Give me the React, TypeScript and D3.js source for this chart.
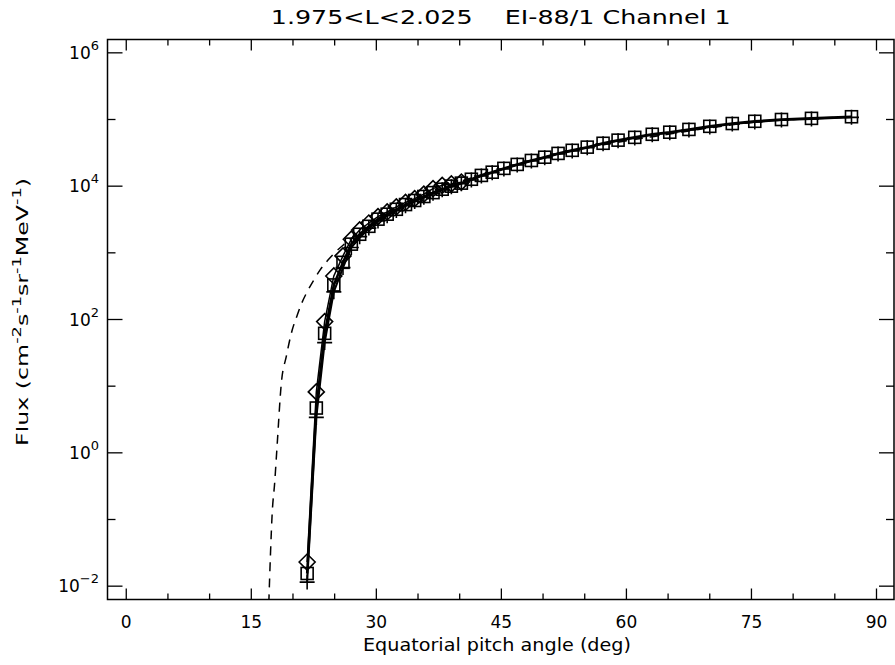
import React from "react";
import * as d3 from "d3";

// ---------- data ----------
const pitchAngles = [21.7, 22.8, 23.8, 24.9, 26.0, 27.0, 28.0, 29.1, 30.2, 31.3, 32.4, 33.5, 34.6, 35.7, 36.8, 37.9, 39.0, 40.2, 41.4, 42.6, 43.9, 45.3, 46.9, 48.6, 50.2, 51.8, 53.5, 55.3, 57.2, 59.0, 61.0, 63.1, 65.2, 67.5, 70.0, 72.7, 75.4, 78.6, 82.2, 87.0];
const squareFlux = [0.0155, 4.7, 62, 330, 720, 1350, 1900, 2500, 3200, 3800, 4500, 5300, 6100, 7000, 8000, 9000, 10000, 11100, 12700, 14500, 16200, 18500, 21200, 24300, 27200, 31000, 34500, 38500, 44000, 49000, 54000, 60000, 64500, 71000, 79000, 87000, 94000, 100000, 104000, 110000];
const plusFlux = [0.0115, 3.4, 45, 260, 600, 1200, 1750, 2350, 3000, 3600, 4300, 5100, 5900, 6800, 7800, 8800, 9800, 10900, 12400, 14200, 15900, 18100, 20800, 23800, 26700, 30400, 33800, 37700, 43100, 48000, 52900, 58800, 63200, 69600, 77400, 85300, 92100, 98000, 102000, 107800];
const diamondAngles = [21.7, 22.8, 23.8, 24.9, 26.0, 27.0, 28.0, 29.1, 30.2, 31.3, 32.4, 33.5, 34.6, 35.7, 36.8, 37.9, 39.0, 40.2];
const diamondFlux = [0.023, 8.2, 93, 450, 900, 1600, 2200, 2800, 3500, 4100, 4900, 5700, 6500, 7600, 9200, 10300, 10800, 11500];
const modelAngles = [17.1, 17.3, 17.5, 17.8, 18.1, 18.6, 19.2, 19.9, 20.5, 21.0, 21.7, 22.5, 23.2, 24.2, 25.0, 26.0, 27.0, 28.0, 30.0, 32.0, 35.0, 38.0, 41.0, 45.0, 50.0, 55.0, 60.0, 65.0, 70.0, 75.0, 80.0, 87.0];
const modelFlux = [0.0055, 0.03, 0.12, 0.35, 1.3, 11, 28, 69, 115, 170, 260, 390, 540, 780, 1000, 1300, 1650, 1950, 2900, 4000, 6200, 9300, 12800, 18000, 27000, 37000, 48000, 60000, 75000, 90000, 100000, 110000];

const xMajorTicks = [0, 15, 30, 45, 60, 75, 90];
const xMinorTicks = [5, 10, 20, 25, 35, 40, 50, 55, 65, 70, 80, 85];
const yMajorExps = [-2, 0, 2, 4, 6];
const yMinorExps = [-1, 1, 3, 5];

const titleText = "1.975<L<2.025    EI-88/1 Channel 1";
const xTitle = "Equatorial pitch angle (deg)";

const W = 895;
const H = 665;
const L = 107.5, R = 894, T = 39.5, B = 599.5;
const FONT = "'DejaVu Sans', 'Liberation Sans', sans-serif";

export default function App() {
  const x = d3.scaleLinear().domain([-2.25, 92.1]).range([L, R]);
  const y = d3.scaleLog().domain([Math.pow(10, -2.2), Math.pow(10, 6.2)]).range([B, T]);

  const line = d3
    .line<[number, number]>()
    .x((d) => x(d[0]))
    .y((d) => y(d[1]));
  const smooth = d3
    .line<[number, number]>()
    .x((d) => x(d[0]))
    .y((d) => y(d[1]))
    .curve(d3.curveMonotoneX);

  const sq = pitchAngles.map((a, i) => [a, squareFlux[i]] as [number, number]);
  const pl = pitchAngles.map((a, i) => [a, plusFlux[i]] as [number, number]);
  const dm = diamondAngles.map((a, i) => [a, diamondFlux[i]] as [number, number]);
  const md = modelAngles.map((a, i) => [a, modelFlux[i]] as [number, number]);

  const sw = 1.6;

  return (
    <svg
      width={W}
      height={H}
      style={{ position: "absolute", left: 0, top: 0, background: "#fff" }}
      fontFamily={FONT}
      fill="#000"
    >
      <defs>
        <clipPath id="plotclip">
          <rect x={L} y={T} width={R - L} height={B - T} />
        </clipPath>
      </defs>
      <rect x={0} y={0} width={W} height={H} fill="#fff" />

      {/* title */}
      <text
        x={(L + R) / 2}
        y={24}
        fontSize={20}
        textAnchor="middle"
        style={{ whiteSpace: "pre" }}
        textLength={460}
        lengthAdjust="spacingAndGlyphs"
      >
        {titleText}
      </text>

      {/* data */}
      <g clipPath="url(#plotclip)" fill="none" stroke="#000">
        <path d={smooth(md) || ""} strokeWidth={1.5} strokeDasharray="9,7" />
        <path d={line(dm) || ""} strokeWidth={1.5} />
        <path d={line(pl) || ""} strokeWidth={2} />
        <path d={line(sq) || ""} strokeWidth={2.5} />
        {dm.map((d, i) => {
          const cx = x(d[0]);
          const cy = y(d[1]);
          const r = 8;
          return (
            <path
              key={"d" + i}
              d={`M${cx - r},${cy}L${cx},${cy - r}L${cx + r},${cy}L${cx},${cy + r}Z`}
              strokeWidth={sw}
            />
          );
        })}
        {sq.map((d, i) => {
          const cx = x(d[0]);
          const cy = y(d[1]);
          return <rect key={"s" + i} x={cx - 6} y={cy - 6} width={12} height={12} strokeWidth={sw} />;
        })}
        {pl.map((d, i) => {
          const cx = x(d[0]);
          const cy = y(d[1]);
          const r = 7.5;
          return (
            <path
              key={"p" + i}
              d={`M${cx - r},${cy}L${cx + r},${cy}M${cx},${cy - r}L${cx},${cy + r}`}
              strokeWidth={sw}
            />
          );
        })}
      </g>

      {/* frame */}
      <rect x={L} y={T} width={R - L} height={B - T} fill="none" stroke="#000" strokeWidth={1.5} />

      {/* ticks */}
      <g stroke="#000" strokeWidth={1.3}>
        {xMajorTicks.map((t) => (
          <g key={"xm" + t}>
            <line x1={x(t)} x2={x(t)} y1={B} y2={B - 11} />
            <line x1={x(t)} x2={x(t)} y1={T} y2={T + 11} />
          </g>
        ))}
        {xMinorTicks.map((t) => (
          <g key={"xn" + t}>
            <line x1={x(t)} x2={x(t)} y1={B} y2={B - 6} />
            <line x1={x(t)} x2={x(t)} y1={T} y2={T + 6} />
          </g>
        ))}
        {yMajorExps.map((e) => (
          <g key={"ym" + e}>
            <line x1={L} x2={L + 15} y1={y(Math.pow(10, e))} y2={y(Math.pow(10, e))} />
            <line x1={R} x2={R - 15} y1={y(Math.pow(10, e))} y2={y(Math.pow(10, e))} />
          </g>
        ))}
        {yMinorExps.map((e) => (
          <g key={"yn" + e}>
            <line x1={L} x2={L + 8} y1={y(Math.pow(10, e))} y2={y(Math.pow(10, e))} />
            <line x1={R} x2={R - 8} y1={y(Math.pow(10, e))} y2={y(Math.pow(10, e))} />
          </g>
        ))}
      </g>

      {/* x tick labels */}
      <g fontSize={17} textAnchor="middle">
        {xMajorTicks.map((t) => (
          <text key={"xl" + t} x={x(t)} y={628}>
            {String(t)}
          </text>
        ))}
      </g>

      {/* y tick labels */}
      <g fontSize={17} textAnchor="end">
        {yMajorExps.map((e) => (
          <text key={"yl" + e} x={99} y={y(Math.pow(10, e)) + 6}>
            10
            <tspan dy={-9} fontSize={13}>
              {e < 0 ? "\u2212" + String(-e) : String(e)}
            </tspan>
          </text>
        ))}
      </g>

      {/* x title */}
      <text
        x={497}
        y={651}
        fontSize={17}
        textAnchor="middle"
        textLength={268}
        lengthAdjust="spacingAndGlyphs"
      >
        {xTitle}
      </text>

      {/* y title */}
      <text
        transform="translate(28,312) rotate(-90)"
        fontSize={16}
        textAnchor="middle"
        textLength={268}
        lengthAdjust="spacingAndGlyphs"
      >
        Flux (cm
        <tspan dy={-7} fontSize={12}>-2</tspan>
        <tspan dy={7}>s</tspan>
        <tspan dy={-7} fontSize={12}>-1</tspan>
        <tspan dy={7}>sr</tspan>
        <tspan dy={-7} fontSize={12}>-1</tspan>
        <tspan dy={7}>MeV</tspan>
        <tspan dy={-7} fontSize={12}>-1</tspan>
        <tspan dy={7}>)</tspan>
      </text>
    </svg>
  );
}
